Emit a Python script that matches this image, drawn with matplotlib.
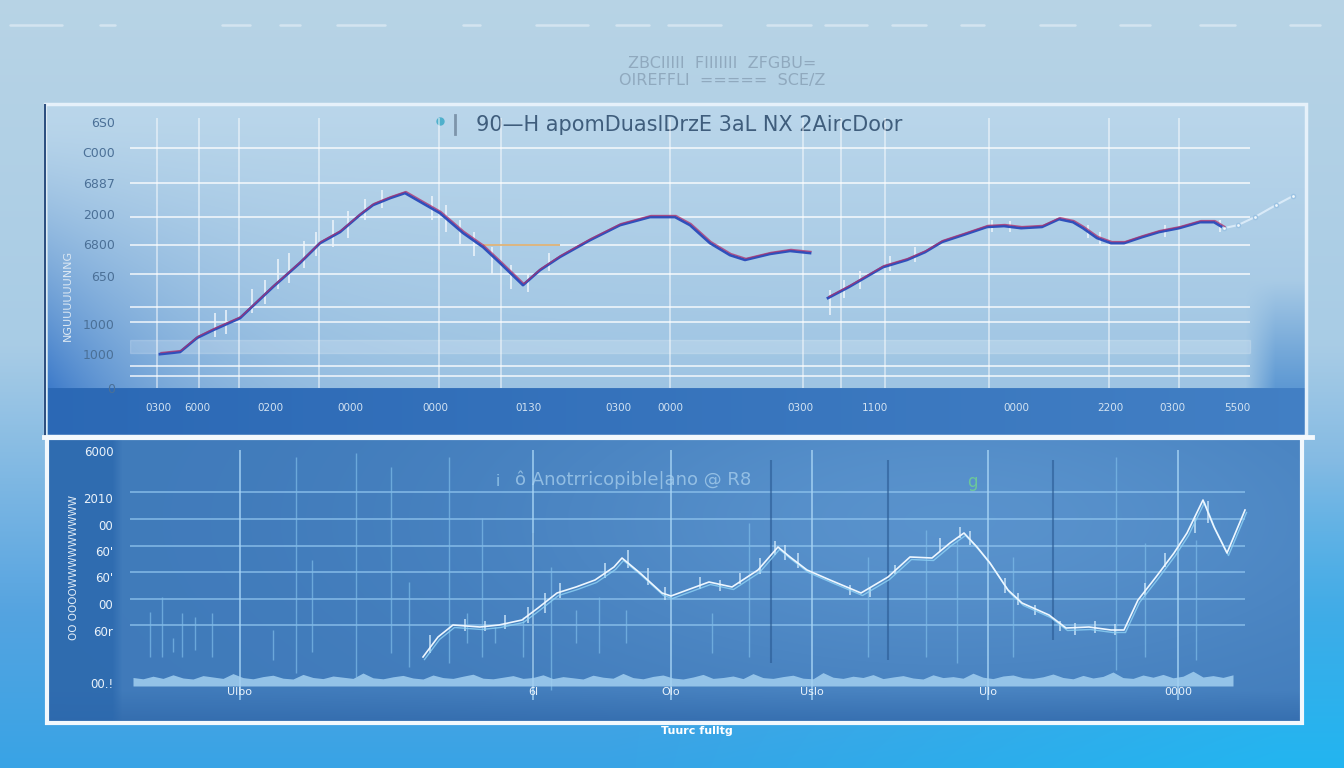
import matplotlib.pyplot as plt
import matplotlib.patches as patches
import matplotlib.transforms as mtransforms
import numpy as np

W, H = 1344, 768

# ---------------- upper panel data ----------------
upper_x1 = [3.0, 5.0, 6.7, 8.3, 11.0, 14.3, 17.0, 19.0, 21.0, 23.0, 24.3, 26.0, 27.5, 28.7,
            31.0, 33.3, 35.3, 37.0, 39.3, 41.0, 43.0, 46.0, 49.0, 52.0, 54.5, 56.0, 58.0,
            60.0, 61.5, 64.0, 66.0, 68.0]
upper_y1 = [113, 120, 167, 193, 233, 337, 417, 483, 520, 577, 610, 633, 650, 627,
            583, 517, 470, 417, 343, 393, 437, 493, 543, 570, 570, 543, 483,
            443, 427, 447, 457, 450]
upper_x2 = [69.8, 71.9, 73.6, 75.3, 77.7, 79.5, 81.2, 83.3, 85.7, 87.4, 89.1, 91.2, 92.9,
            94.3, 95.3, 96.7, 98.1, 99.4, 101.2, 102.9, 104.9, 107.0, 108.4, 109.4]
upper_y2 = [300, 337, 370, 403, 427, 453, 487, 510, 537, 540, 533, 537, 563,
            553, 533, 500, 483, 483, 503, 520, 533, 553, 553, 533]
upper_tail_x = [109.4, 110.8, 112.5, 114.6, 116.3]
upper_tail_y = [533, 543, 570, 610, 640]

upper_wick_x = [8.5, 9.6, 12.2, 13.5, 14.8, 15.9, 17.4, 18.6, 20.3, 21.8, 23.5, 25.2, 30.2,
                31.6, 33.0, 34.4, 36.2, 38.1, 39.8, 41.9, 70.0, 71.4, 73.0, 76.0, 78.5,
                86.2, 88.0, 95.8, 97.0, 103.5, 109.0]
upper_wick_lo = [170, 180, 250, 280, 330, 350, 400, 440, 470, 500, 560, 600, 560,
                 520, 480, 440, 380, 330, 320, 390, 243, 300, 330, 390, 420,
                 520, 520, 500, 480, 505, 520]
upper_wick_hi = [250, 260, 330, 360, 430, 450, 490, 520, 560, 590, 630, 660, 640,
                 610, 560, 520, 470, 410, 380, 450, 327, 360, 390, 440, 470,
                 560, 556, 545, 520, 545, 560]

upper_yticks = [0, 113, 213, 373, 480, 580, 683, 787, 887]
upper_ylabels = ['0', '1000', '1000', '650', '6800', '2000', '6887', 'C000', '6S0']
upper_xticks = [2.8, 6.7, 14.0, 22.0, 30.5, 39.8, 48.8, 54.0, 67.0, 74.5, 88.6, 98.0, 104.2, 110.7]
upper_xlabels = ['0300', '6000', '0200', '0000', '0000', '0130', '0300', '0000',
                 '0300', '1100', '0000', '2200', '0300', '5500']
upper_hgrid = [40, 73, 220, 270, 380, 477, 570, 683, 800]
upper_vgrid = [2.7, 6.9, 10.9, 18.9, 30.9, 37.1, 54.0, 67.3, 71.1, 75.5, 85.9, 97.9, 104.9]

# ---------------- lower panel data ----------------
lower_x = [29.3, 30.8, 32.3, 35.0, 36.9, 39.2, 40.8, 42.7, 44.6, 46.5, 48.4, 49.2, 51.0,
           53.2, 54.1, 57.9, 60.2, 62.8, 64.8, 66.0, 67.7, 70.0, 73.1, 75.8, 78.0, 80.2,
           82.0, 83.4, 84.7, 86.0, 87.8, 89.2, 91.9, 93.6, 95.9, 98.1, 99.4, 100.8,
           102.6, 104.4, 105.7, 107.3, 108.4, 109.7, 111.5]
lower_y = [260, 460, 580, 560, 580, 630, 750, 900, 960, 1030, 1160, 1250, 1100,
           900, 870, 1010, 960, 1130, 1360, 1260, 1130, 1030, 900, 1060, 1260, 1250,
           1400, 1500, 1360, 1200, 930, 800, 680, 550, 560, 530, 530, 830,
           1060, 1300, 1500, 1830, 1560, 1300, 1730]

lower_wick_x = [30.0, 33.5, 35.5, 37.5, 39.8, 41.5, 43.0, 47.5, 49.8, 51.8, 53.5, 57.0,
                59.0, 61.0, 63.0, 64.5, 65.5, 66.8, 72.0, 74.0, 76.5, 81.0, 83.0, 84.0,
                87.5, 88.8, 90.5, 93.0, 94.5, 96.5, 98.5, 101.5, 103.5, 106.5, 107.8]
lower_wick_lo = [300, 520, 520, 540, 600, 700, 850, 1050, 1150, 980, 830, 940,
                 920, 990, 1090, 1280, 1230, 1150, 880, 860, 1090, 1320, 1450, 1380,
                 900, 780, 680, 520, 480, 500, 480, 880, 1160, 1500, 1600]
lower_wick_hi = [480, 640, 620, 680, 760, 900, 1000, 1200, 1330, 1150, 960, 1060,
                 1030, 1100, 1250, 1420, 1380, 1300, 980, 960, 1180, 1450, 1560, 1520,
                 1050, 900, 780, 620, 600, 620, 590, 1000, 1300, 1650, 1820]

# thin level markers behind the lower trace
lower_vl_x = [2.0, 3.2, 4.3, 5.2, 6.5, 8.2, 14.3, 16.6, 18.2, 22.6, 26.1, 27.9, 31.9, 33.7,
              35.2, 36.5, 39.3, 42.1, 44.6, 46.9, 49.6, 58.2, 61.9, 73.8, 79.6, 82.7,
              88.3, 98.6, 101.5, 106.6]
lower_vl_lo = [260, 260, 310, 260, 330, 260, 230, 100, 310, 60, 300, 160, 200, 400,
               260, 400, 260, -70, 400, 300, 400, 300, 260, 260, 260, 200,
               260, 130, 260, 230]
lower_vl_hi = [710, 860, 450, 700, 660, 700, 530, 2260, 1230, 2300, 2160, 1010, 2260, 700,
               1650, 560, 660, 1160, 730, 860, 730, 700, 1600, 1260, 1530, 1430,
               1260, 2260, 1400, 1430]
lower_dark_x = [64.1, 75.8, 92.3, 40.3]
lower_dark_lo = [200, 230, 430, 60]
lower_dark_hi = [2230, 2230, 2230, 1500]

lower_xticks = [11.0, 40.3, 54.1, 68.2, 85.8, 104.8]
lower_xlabels = ['Ulbo', '6l', 'Olo', 'Uslo', 'Ulo', '0000']
lower_yticks = [0, 520, 790, 1060, 1320, 1580, 1850, 2320]
lower_ylabels = ['00.!', '60r', '00', "60'", "60'", '00', '2010', '6000']
lower_hgrid = [580, 840, 1110, 1370, 1640, 1910]

activity_x = list(np.arange(0.3, 111, 1.0))
activity_h = [85, 72, 98, 76, 112, 80, 70, 104, 90, 76, 124, 84, 72, 94, 108, 78, 70, 116, 85, 74,
              100, 88, 76, 130, 82, 72, 92, 106, 80, 70, 110, 84, 76, 98, 118, 78, 72, 88, 104, 76,
              85, 112, 74, 94, 82, 70, 108, 88, 78, 126, 84, 72, 96, 110, 80, 70, 90, 116, 76, 85,
              100, 74, 124, 84, 76, 94, 108, 78, 72, 134, 88, 76, 98, 85, 114, 74, 90, 104, 80, 70,
              112, 84, 94, 78, 128, 88, 74, 100, 110, 82, 76, 92, 120, 85, 72, 106, 80, 96, 140, 84,
              76, 110, 88, 116, 82, 98, 148, 90, 104, 86, 112]


def px(x0, y0, x1, y1):
    return [x0 / W, 1 - y1 / H, (x1 - x0) / W, (y1 - y0) / H]


def mix(base, target, w):
    return base * (1 - w[..., None]) + np.array(target) * w[..., None]


fig = plt.figure(figsize=(W / 100, H / 100), dpi=100)

# ---------------- canvas: backgrounds, frames, header ----------------
cv = fig.add_axes([0, 0, 1, 1])
cv.set_xlim(0, W)
cv.set_ylim(H, 0)
cv.axis('off')

yy, xx = np.mgrid[0:H, 0:W].astype(float)
t = yy / H
stops = [0, 0.45, 0.8, 1.0]
cols = np.array([(0.72, 0.83, 0.90), (0.66, 0.80, 0.90), (0.33, 0.64, 0.88), (0.22, 0.64, 0.90)])
img = np.stack([np.interp(t, stops, cols[:, k]) for k in range(3)], axis=-1)
w = np.clip((xx / W - 0.45) * 2, 0, 1) * np.clip((t - 0.6) / 0.4, 0, 1) * 0.7
img = mix(img, (0.10, 0.74, 0.96), w)
cv.imshow(img, extent=(0, W, H, 0), aspect='auto', zorder=0)

# upper panel backdrop
yy, xx = np.mgrid[105:436, 48:1306].astype(float)
base = np.stack([np.interp(yy, [105, 388], c) for c in ([0.73, 0.62], [0.84, 0.77], [0.92, 0.89])], axis=-1)
w = np.clip((yy - 120) / 268, 0, 1) ** 1.5 * np.exp(-(xx - 48) / 120) * 0.9
base = mix(base, (0.20, 0.45, 0.78), w)
w = np.clip((xx - 1245) / 30, 0, 1) * np.clip((yy - 280) / 110, 0, 1) * 0.7
base = mix(base, (0.25, 0.52, 0.80), w)
strip = np.stack([np.interp(xx, [48, 1306], c) for c in ([0.17, 0.26], [0.41, 0.50], [0.71, 0.77])], axis=-1)
base = np.where((yy >= 389)[..., None], strip, base)
cv.imshow(base, extent=(48, 1306, 435, 105), aspect='auto', zorder=1)

# lower panel backdrop
yy, xx = np.mgrid[438:722, 48:1302].astype(float)
base = np.ones(yy.shape + (3,)) * np.array([0.25, 0.48, 0.73])
w = np.exp(-((xx - 950) / 450) ** 2 - ((yy - 520) / 170) ** 2) * 0.55
base = mix(base, (0.43, 0.65, 0.86), w)
w = np.clip((yy - 690) / 30, 0, 1) * 0.6
base = mix(base, (0.18, 0.40, 0.66), w)
w = np.clip((122 - xx) / 10, 0, 1) * 0.8
base = mix(base, (0.17, 0.41, 0.68), w)
cv.imshow(base, extent=(48, 1302, 722, 438), aspect='auto', zorder=1)

# frames
cv.add_patch(patches.Rectangle((45, 104), 1261, 332, fill=False, ec='#e6f1fa', lw=2.5, zorder=3))
cv.plot([45, 45], [105, 436], color='#2d5080', lw=1.5, zorder=4)
cv.plot([44, 1312], [437, 437], color='#f4f9fd', lw=3.5, zorder=4)
cv.add_patch(patches.Rectangle((47, 438), 1255, 285, fill=False, ec='#f2f8fd', lw=3, zorder=3))

# dashes along the top edge
for x0, x1 in [(10, 62), (100, 115), (222, 250), (280, 300), (337, 385), (463, 480),
               (536, 588), (616, 649), (668, 721), (767, 811), (825, 867), (892, 926),
               (961, 984), (1040, 1075), (1120, 1150), (1200, 1235), (1290, 1320)]:
    cv.plot([x0, x1], [25, 25], color='#e8f1f8', lw=1.8, alpha=0.6, solid_capstyle='round', zorder=2)

cv.text(722, 63, 'ZBCIIIII  FIIIIIII  ZFGBU=', ha='center', va='center', fontsize=11.5,
        color='#8ca5ba', alpha=0.9, zorder=5)
cv.text(722, 81, 'OIREFFLI  =====  SCE/Z', ha='center', va='center', fontsize=11.5,
        color='#8ca5ba', alpha=0.9, zorder=5)

cv.plot([440], [121], 'o', color='#4fb0cc', ms=5, zorder=5)
cv.plot([455, 455], [115, 134], color='#7d95ab', lw=2, zorder=5)
cv.text(476, 125, '90—H apomDuaslDrzE 3aL NX 2AircDoor', ha='left', va='center',
        fontsize=15, color='#3f5d7c', zorder=5)

cv.text(498, 481, 'i', ha='center', va='center', fontsize=11, color='#9fd0ee', alpha=0.8, zorder=5)
cv.text(515, 480, 'ô Anotrricopible|ano @ R8', ha='left', va='center', fontsize=13,
        color='#a9d0ee', alpha=0.75, zorder=5)
cv.text(972, 482, 'g', ha='center', va='center', fontsize=12, color='#6cc79a', zorder=5)

cv.text(68, 295, 'NGUUUUUUNNG', rotation=90, ha='center', va='center', fontsize=8,
        color='#dce8f3', zorder=5)
cv.text(74, 568, 'OO OOOOWWWWWWWWW', rotation=90, ha='center', va='center', fontsize=7.5,
        color='#e2edf7', zorder=5)
cv.text(697, 731, 'Tuurc fulltg', ha='center', va='center', fontsize=8, fontweight='bold',
        color='white', zorder=5)

# ---------------- upper chart ----------------
ax1 = fig.add_axes(px(130, 112, 1300, 388))
ax1.set_facecolor('none')
ax1.set_xlim(0, 117)
ax1.set_ylim(0, 920)
for s in ax1.spines.values():
    s.set_visible(False)

ax1.hlines(upper_hgrid, 0, 112, color='white', lw=1.3, alpha=0.75, zorder=1)
ax1.axhspan(117, 160, xmin=0, xmax=112 / 117, color='white', alpha=0.18, zorder=1)
ax1.vlines(upper_vgrid, 0, 900, color='white', lw=1.1, alpha=0.6, zorder=1)
ax1.hlines([477], 35.3, 43.0, color='#d89a4a', lw=1.2, alpha=0.8, zorder=2)

ax1.vlines(upper_wick_x, upper_wick_lo, upper_wick_hi, color='#eef5fb', lw=1.3, alpha=0.85, zorder=2)

up = mtransforms.offset_copy(ax1.transData, fig=fig, x=1.0, y=1.5, units='dots')
for xs, ys in [(upper_x1, upper_y1), (upper_x2, upper_y2)]:
    ax1.plot(xs, ys, color='#2f50bc', lw=2.0, zorder=3, solid_joinstyle='round')
    ax1.plot(xs, ys, color='#b0306c', lw=1.0, alpha=0.75, zorder=4, transform=up)
ax1.plot(upper_tail_x, upper_tail_y, color='#d9eaf8', lw=1.5, marker='o', ms=3,
         mfc='#eef6fc', mec='#9cc3e3', zorder=3)

ax1.set_yticks(upper_yticks)
ax1.set_yticklabels(upper_ylabels, fontsize=9, color='#4b7097')
ax1.set_xticks(upper_xticks)
ax1.set_xticklabels(upper_xlabels, fontsize=7.5, color='#d3e3f2')
ax1.tick_params(length=0)
ax1.tick_params(axis='y', pad=11)
ax1.tick_params(axis='x', pad=11)

# ---------------- lower chart ----------------
ax2 = fig.add_axes(px(130, 445, 1300, 700))
ax2.set_facecolor('none')
ax2.set_xlim(0, 117)
ax2.set_ylim(-170, 2380)
for s in ax2.spines.values():
    s.set_visible(False)

ax2.hlines(lower_hgrid, -0.8, 111.5, color='#8fc4ee', lw=1.2, alpha=0.8, zorder=1)
ax2.vlines(lower_vl_x, lower_vl_lo, lower_vl_hi, color='#7dbbe8', lw=1.0, alpha=0.7, zorder=1)
ax2.vlines(lower_dark_x, lower_dark_lo, lower_dark_hi, color='#2a5a93', lw=1.5, alpha=0.6, zorder=1)
ax2.vlines(lower_xticks, -170, 2330, color='#a8d5f5', lw=1.2, alpha=0.85, zorder=1)

ax2.fill_between(activity_x, -30, [-30 + h for h in activity_h], color='#a2cff0', alpha=0.85,
                 lw=0, zorder=2)
ax2.vlines(lower_wick_x, lower_wick_lo, lower_wick_hi, color='#cfe8fa', lw=1.2, alpha=0.85, zorder=2)

dn = mtransforms.offset_copy(ax2.transData, fig=fig, x=1.5, y=-2.5, units='dots')
ax2.plot(lower_x, lower_y, color='#8fd3f6', lw=1.0, alpha=0.8, zorder=3, transform=dn)
ax2.plot(lower_x, lower_y, color='#eef7ff', lw=1.2, zorder=4)

ax2.set_yticks(lower_yticks)
ax2.set_yticklabels(lower_ylabels, fontsize=8.5, color='#eaf2fa')
ax2.set_xticks([])
ax2.tick_params(length=0)
ax2.tick_params(axis='y', pad=12)
for x, lab in zip(lower_xticks, lower_xlabels):
    ax2.text(x, -90, lab, ha='center', va='center', fontsize=8, color='#e8f2fb', zorder=5)

fig.savefig('out.png', dpi=100)
